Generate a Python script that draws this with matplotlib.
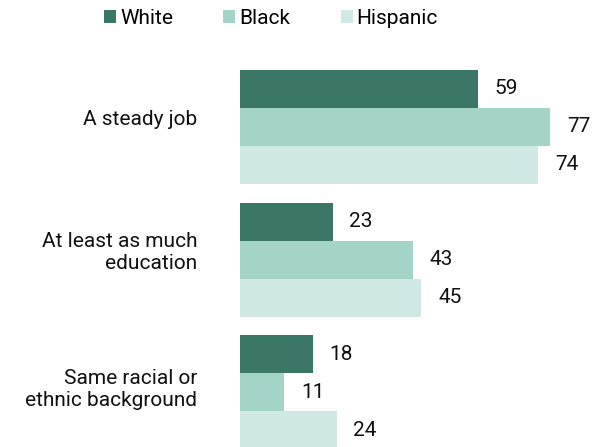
import matplotlib
matplotlib.use("Agg")
import matplotlib.pyplot as plt
from matplotlib.patches import Patch
from matplotlib.transforms import blended_transform_factory, offset_copy
import numpy as np

categories = ["A steady job", "At least as much\neducation", "Same racial or\nethnic background"]
series_names = ["White", "Black", "Hispanic"]
white = [59, 23, 18]
black = [77, 43, 11]
hispanic = [74, 45, 24]
colors = ["#3a7767", "#a4d3c8", "#d0e9e4"]

plt.rcParams['font.family'] = ['Roboto', 'DejaVu Sans']
FS = 15

fig = plt.figure(figsize=(6.03, 4.47), dpi=100)
ax = fig.add_axes([240/603, 0, 363/603, 1])

h = 38/132.5
series = [white, black, hispanic]
idx = np.arange(len(categories))
for j, (vals, col) in enumerate(zip(series, colors)):
    ypos = idx + (j - 1) * h
    ax.barh(ypos, vals, height=h, color=col, edgecolor='none')
    for y, v in zip(ypos, vals):
        ax.annotate(str(v), xy=(v, y), xytext=(12, 0), textcoords='offset points',
                    ha='left', va='center', fontsize=FS, color='#111111')

ax.set_xlim(0, 363/4.03)
ax.set_ylim((447-127)/132.5, -127/132.5)
ax.axis('off')

trans = offset_copy(blended_transform_factory(ax.transAxes, ax.transData), fig=fig, x=-43, y=0, units='dots')
offsets = [-0.06, -0.05, -0.02]
for i, c in enumerate(categories):
    ax.text(0, i + offsets[i], c, transform=trans, ha='right', va='center',
            fontsize=FS, color='#111111', linespacing=1.2, multialignment='right')

handles = [Patch(facecolor=c, edgecolor='none', label=n) for c, n in zip(colors, series_names)]
fig.legend(handles=handles, loc='center left', bbox_to_anchor=(104/603, 1 - 18.5/447),
           ncol=3, frameon=False, fontsize=FS, handlelength=0.58, handleheight=0.58,
           handletextpad=0.2, columnspacing=2.4, borderaxespad=0, borderpad=0)

fig.savefig("out.png", dpi=100)
